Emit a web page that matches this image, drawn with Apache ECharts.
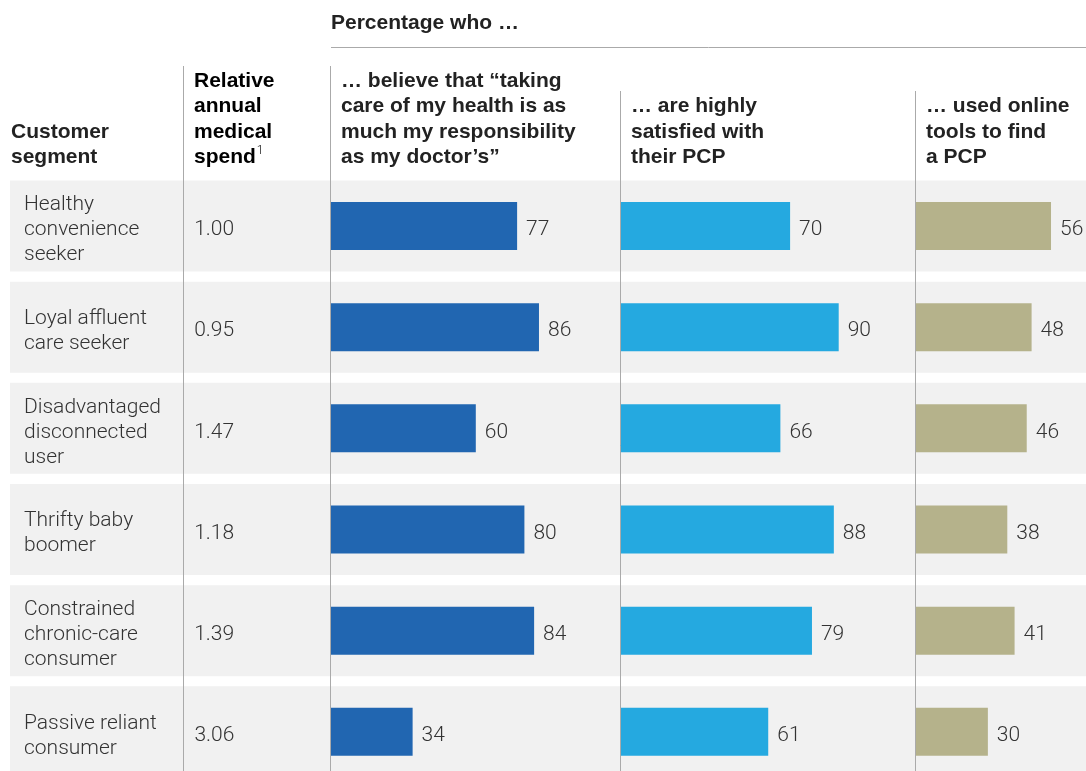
<!DOCTYPE html>
<html><head><meta charset="utf-8">
<script src="https://cdn.jsdelivr.net/npm/echarts@6/dist/echarts.min.js"></script>
<style>html,body{margin:0;padding:0;background:#fff;overflow:hidden}#c{width:1086px;height:800px}</style>
</head><body><div id="c"></div>
<script>
const segments = ['Healthy\nconvenience\nseeker','Loyal affluent\ncare seeker','Disadvantaged\ndisconnected\nuser','Thrifty baby\nboomer','Constrained\nchronic-care\nconsumer','Passive reliant\nconsumer'];
const spend = ['1.00','0.95','1.47','1.18','1.39','3.06'];
const responsibility = [77,86,60,80,84,34];
const satisfied = [70,90,66,88,79,61];
const onlineTools = [56,48,46,38,41,30];
const headers = {
  segment: 'Customer\nsegment',
  top: 'Percentage who …',
  c1: '… believe that “taking\ncare of my health is as\nmuch my responsibility\nas my doctor’s”',
  c2: '… are highly\nsatisfied with\ntheir PCP',
  c3: '… used online\ntools to find\na PCP'
};

const FONT = 'Roboto, "Liberation Sans", Arial, sans-serif';
const BFONT = '"Liberation Sans", Arial, sans-serif';
const HF = 'bold 21px ' + BFONT;
const TXT = '#333';
const HTXT = '#222';
const LINE = '#aaa';
const TOP = 175.4, HEIGHT = 607;

const chart = echarts.init(document.getElementById('c'), null, {renderer:'canvas'});

function catAxis(gi) {
  return {type:'category', data:segments, inverse:true, gridIndex:gi,
    axisLine:{show:false}, axisTick:{show:false}, axisLabel:{show:false}, splitLine:{show:false}};
}
function valAxis(gi, max) {
  return {type:'value', min:0, max:max, gridIndex:gi, show:false};
}
const valueLabel = {show:true, position:'right', distance:9, fontFamily:FONT, fontWeight:300, fontSize:21, color:TXT, offset:[0,4]};
function barSeries(gi, data, color) {
  return {type:'bar', xAxisIndex:gi, yAxisIndex:gi, data:data, barWidth:48, z:3, silent:true,
    itemStyle:{color:color}, label:valueLabel};
}

const option = {
  animation:false,
  backgroundColor:'#fff',
  grid:[
    {left:10, width:1076, top:TOP, height:HEIGHT},        // 0 bands + segment labels
    {left:183, width:137, top:TOP, height:HEIGHT},        // 1 spend
    {left:330, width:243, top:TOP, height:HEIGHT},        // 2
    {left:620, width:243, top:TOP, height:HEIGHT},        // 3
    {left:915, width:171, top:TOP, height:HEIGHT}         // 4 (171px = 70.4 units at same scale)
  ],
  xAxis:[valAxis(0,1), valAxis(1,1000), valAxis(2,100), valAxis(3,100), valAxis(4,70.4)],
  yAxis:[catAxis(0), catAxis(1), catAxis(2), catAxis(3), catAxis(4)],
  series:[
    {type:'bar', xAxisIndex:0, yAxisIndex:0, data:segments.map(()=>1), barWidth:91, z:0, silent:true,
      itemStyle:{color:'#f1f1f1'},
      label:{show:true, position:'insideLeft', distance:14, fontFamily:FONT, fontWeight:300, fontSize:21,
        color:TXT, lineHeight:25, offset:[0,4], formatter:p=>segments[p.dataIndex]}},
    {type:'bar', xAxisIndex:1, yAxisIndex:1, data:spend.map(Number), barWidth:1, z:1, silent:true,
      itemStyle:{color:'rgba(0,0,0,0)'},
      label:Object.assign({}, valueLabel, {distance:11, formatter:p=>spend[p.dataIndex]})},
    barSeries(2, responsibility, '#2166b1'),
    barSeries(3, satisfied, '#25a9e0'),
    barSeries(4, onlineTools, '#b5b28b')
  ],
  graphic:[
    {type:'line', z:50, shape:{x1:331, y1:47.5, x2:1086, y2:47.5}, style:{stroke:LINE, lineWidth:1}},
    {type:'line', z:50, shape:{x1:183.5, y1:66, x2:183.5, y2:800}, style:{stroke:LINE, lineWidth:1}},
    {type:'line', z:50, shape:{x1:330.5, y1:66, x2:330.5, y2:800}, style:{stroke:LINE, lineWidth:1}},
    {type:'line', z:50, shape:{x1:620.5, y1:91, x2:620.5, y2:800}, style:{stroke:LINE, lineWidth:1}},
    {type:'line', z:50, shape:{x1:915.5, y1:91, x2:915.5, y2:800}, style:{stroke:LINE, lineWidth:1}},
    {type:'text', z:50, left:331, top:13, style:{text:headers.top, font:HF, fill:HTXT}},
    {type:'text', z:50, left:11, top:119, style:{text:headers.segment, font:HF, fill:HTXT, lineHeight:25.5}},
    {type:'text', z:50, left:194, top:68, style:{
      text:'{b|Relative}\n{b|annual}\n{b|medical}\n{b|spend}{s|1}',
      rich:{b:{font:HF, color:HTXT, lineHeight:25.5},
            s:{font:'300 12px '+FONT, color:'#333', lineHeight:25.5, verticalAlign:'top', padding:[0,0,10,1]}},
      lineHeight:25.5}},
    {type:'text', z:50, left:341, top:68, style:{text:headers.c1, font:HF, fill:HTXT, lineHeight:25.5}},
    {type:'text', z:50, left:631, top:93.5, style:{text:headers.c2, font:HF, fill:HTXT, lineHeight:25.5}},
    {type:'text', z:50, left:926, top:93.5, style:{text:headers.c3, font:HF, fill:HTXT, lineHeight:25.5}}
  ]
};
chart.setOption(option);
</script></body></html>
